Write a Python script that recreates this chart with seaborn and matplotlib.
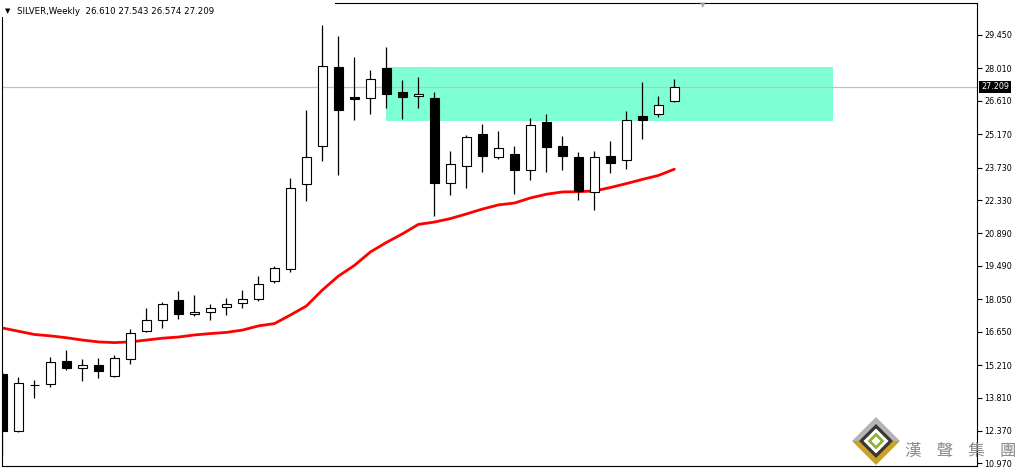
import numpy as np
import pandas as pd
import matplotlib
matplotlib.use("Agg")
import matplotlib.pyplot as plt
import matplotlib.transforms as mtransforms
from matplotlib.patches import Rectangle, Polygon
import seaborn as sns

# ---- data (weekly SILVER OHLC) ----
opens = [14.83, 12.38, 14.37, 14.38, 15.37, 15.10, 15.20, 14.75, 15.49, 16.67,
         17.14, 18.01, 17.40, 17.49, 17.70, 17.88, 18.05, 18.83, 19.34, 23.01,
         24.65, 28.06, 26.79, 26.72, 28.01, 26.98, 26.81, 26.72, 23.05, 23.79,
         25.17, 24.17, 24.30, 23.61, 25.68, 24.65, 24.17, 22.69, 24.22, 24.05,
         25.94, 26.03, 26.610]
highs = [14.91, 14.68, 14.55, 15.56, 15.86, 15.47, 15.52, 15.63, 16.77, 17.67,
         17.93, 18.41, 18.23, 17.86, 18.10, 18.45, 19.05, 19.47, 23.27, 26.21,
         29.88, 29.41, 28.50, 27.94, 28.93, 27.51, 27.64, 26.98, 24.45, 25.12,
         25.61, 25.31, 24.65, 25.86, 26.03, 25.08, 24.39, 24.43, 24.86, 26.16,
         27.41, 26.81, 27.543]
lows = [11.29, 12.34, 13.80, 14.28, 15.01, 14.54, 14.67, 14.71, 15.27, 16.62,
        16.82, 17.21, 17.34, 17.17, 17.38, 17.69, 17.96, 18.76, 19.24, 22.30,
        24.03, 23.42, 25.80, 26.06, 26.31, 25.84, 26.31, 21.66, 22.54, 22.86,
        23.55, 24.11, 22.60, 23.21, 23.55, 23.64, 22.35, 21.89, 23.51, 23.68,
        24.98, 25.93, 26.574]
closes = [12.38, 14.42, 14.33, 15.33, 15.10, 15.20, 14.97, 15.50, 16.58, 17.14,
          17.83, 17.40, 17.49, 17.66, 17.83, 18.05, 18.70, 19.39, 22.84, 24.17,
          28.10, 26.23, 26.70, 27.54, 26.92, 26.76, 26.89, 23.08, 23.87, 25.04,
          24.24, 24.56, 23.64, 25.55, 24.63, 24.24, 22.72, 24.17, 23.94, 25.77,
          25.80, 26.42, 27.209]
ma_values = [16.81, 16.67, 16.53, 16.47, 16.39, 16.29, 16.21, 16.18, 16.21, 16.29,
             16.37, 16.42, 16.51, 16.57, 16.62, 16.72, 16.90, 17.00, 17.37, 17.76,
             18.45, 19.05, 19.51, 20.09, 20.50, 20.87, 21.28, 21.38, 21.53, 21.73,
             21.94, 22.12, 22.20, 22.42, 22.58, 22.68, 22.69, 22.72, 22.87, 23.04,
             23.22, 23.39, 23.66]
ytick_values = [29.450, 28.010, 26.610, 25.170, 23.730, 22.330, 20.890, 19.490,
                18.050, 16.650, 15.210, 13.810, 12.370, 10.970]
zone_start, zone_end = 24.0, 51.9
zone_low, zone_high = 25.75, 28.07
title_text = "SILVER,Weekly  26.610 27.543 26.574 27.209"
watermark_text = "漢    聲    集    團"

df = pd.DataFrame({"open": opens, "high": highs, "low": lows,
                   "close": closes, "ma": ma_values})
df["idx"] = np.arange(len(df))
df["bull"] = df["close"] >= df["open"]

W, H = 1018, 469
sns.set_style("white")
plt.rcParams["font.family"] = ["DejaVu Sans"]

fig = plt.figure(figsize=(W / 100, H / 100), dpi=100)
fig.patch.set_facecolor("white")
ax = fig.add_axes([2 / W, 3 / H, 975 / W, 463 / H])
ax.set_facecolor("white")

# zone rectangle
ax.add_patch(Rectangle((zone_start, zone_low), zone_end - zone_start,
                       zone_high - zone_low, facecolor="#7FFFD4",
                       edgecolor="none", zorder=0.5))
# current price line
ax.axhline(df["close"].iloc[-1], color="#c0c0c0", lw=0.9, zorder=1)

# moving average
sns.lineplot(x=df["idx"], y=df["ma"], color="#ff0000", lw=2.0, ax=ax,
             zorder=2, legend=False)

# wicks
ax.vlines(df["idx"], df["low"], df["high"], color="black", lw=0.9, zorder=3)
# bodies
body_bottom = np.minimum(df["open"], df["close"])
body_height = np.maximum(np.abs(df["close"] - df["open"]), 0.02)
fills = np.where(df["bull"], "white", "black")
ax.bar(df["idx"], body_height, bottom=body_bottom, width=0.6, color=fills,
       edgecolor="black", linewidth=0.8, zorder=4)

ax.set_xlim(-0.03, 60.92)
ax.set_ylim(10.857, 30.83)
ax.set_xticks([])
ax.yaxis.tick_right()
ax.set_yticks(ytick_values)
ax.set_yticklabels([f"{v:.3f}" for v in ytick_values])
ax.tick_params(axis="y", direction="out", length=3.5, width=0.8,
               labelsize=5.8, pad=2, colors="black", right=True, left=False)
ax.set_xlabel("")
ax.set_ylabel("")
for s in ax.spines.values():
    s.set_visible(True)
    s.set_color("black")
    s.set_linewidth(0.8)

# price label
trans = mtransforms.blended_transform_factory(ax.transAxes, ax.transData)
ax.text(1.004, df["close"].iloc[-1], f"{df['close'].iloc[-1]:.3f}",
        transform=trans, color="white", fontsize=5.8, va="center", ha="left",
        bbox=dict(boxstyle="square,pad=0.2", fc="black", ec="none"),
        zorder=10, clip_on=False)

def px(x, y):
    return (x / W, 1 - y / H)

# cover top-left border behind title
fig.patches.append(Rectangle(px(0, 17), 335 / W, 17 / H,
                             transform=fig.transFigure, facecolor="white",
                             edgecolor="none", zorder=1))
fig.text(*px(5, 11), "▼", fontsize=5, va="center", ha="left", color="black",
         zorder=5)
fig.text(*px(17, 11), title_text, fontsize=6.2, va="center", ha="left",
         color="black", zorder=5)
fig.text(*px(703, 5), "▼", fontsize=5, va="center", ha="center",
         color="#a8a8a8", zorder=5)

# watermark logo
cx, cy = 876, 441
def diamond(r):
    return [px(cx, cy - r), px(cx + r, cy), px(cx, cy + r), px(cx - r, cy)]
r = 24
fig.patches.append(Polygon([px(cx - r, cy), px(cx, cy - r), px(cx + r, cy)],
                           closed=True, transform=fig.transFigure,
                           facecolor="#b4b4b4", edgecolor="none", zorder=2))
fig.patches.append(Polygon([px(cx - r, cy), px(cx, cy + r), px(cx + r, cy)],
                           closed=True, transform=fig.transFigure,
                           facecolor="#c9a227", edgecolor="none", zorder=2))
for rr, col in [(17, "#3a3530"), (12.5, "#ffffff"), (8.5, "#8cb43c"), (4.5, "#ffffff")]:
    fig.patches.append(Polygon(diamond(rr), closed=True,
                               transform=fig.transFigure, facecolor=col,
                               edgecolor="none", zorder=2))
fig.text(*px(961, 451), watermark_text, fontsize=12, va="center",
         ha="center", color="#8c8c8c", zorder=6,
         family=["Noto Sans CJK TC", "DejaVu Sans"])

fig.savefig("out.png", dpi=100, facecolor="white")
